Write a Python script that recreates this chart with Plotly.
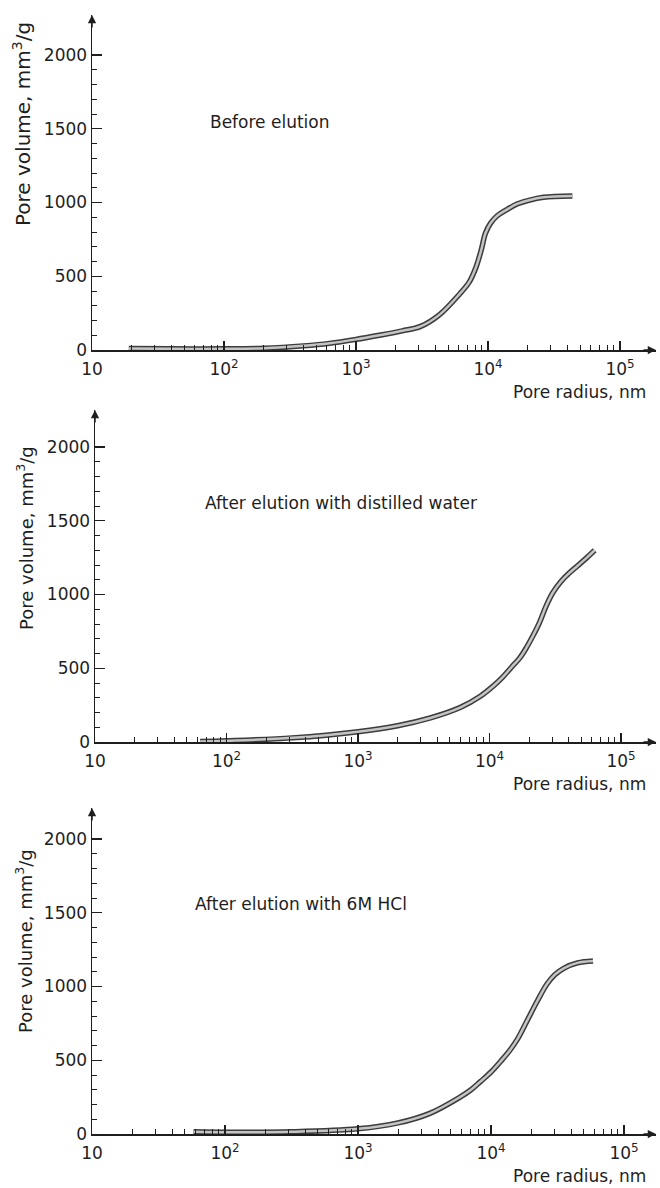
import plotly.graph_objects as go

# ---------------- data ----------------
# Panel 1: Before elution
radius_before = [19, 40, 100, 200, 400, 630, 1000, 1500, 2240, 3090, 4300, 6100,
                 7200, 8100, 8900, 9550, 10470, 11750, 13800, 16600, 20400, 26300, 43600]
volume_before = [10, 8, 8, 12, 28, 45, 72, 100, 130, 160, 240, 380,
                 460, 560, 680, 790, 860, 910, 950, 990, 1015, 1035, 1044]

# Panel 2: After elution with distilled water
radius_water = [63, 100, 316, 1000, 2000, 3550, 6030, 8510, 10700, 12600, 14800,
                17000, 19100, 21400, 24000, 26900, 30200, 34700, 39800, 46800, 55000, 63100]
volume_water = [3, 8, 28, 70, 110, 163, 235, 310, 380, 440, 510,
                 570, 640, 720, 810, 920, 1010, 1085, 1140, 1195, 1250, 1300]

# Panel 3: After elution with 6M HCl
radius_hcl = [58, 100, 316, 1000, 2000, 3470, 5850, 7080, 8320, 10000, 11750,
              13800, 15850, 18600, 22400, 26300, 30200, 35500, 44700, 58500]
volume_hcl = [15, 12, 15, 35, 75, 140, 250, 300, 355, 420, 490,
              565, 645, 765, 905, 1015, 1080, 1125, 1160, 1173]

panel_labels = ["Before elution", "After elution with distilled water",
                "After elution with 6M HCl"]
x_title = "Pore radius, nm"
y_title = "Pore volume, mm<sup>3</sup>/g"

x_tickvals = [10, 100, 1000, 10000, 100000]
x_ticktext = ["10", "10<sup>2</sup>", "10<sup>3</sup>", "10<sup>4</sup>", "10<sup>5</sup>"]
x_minor = [m * 10 ** d for d in range(1, 5) for m in range(2, 10)]
y_tickvals = [0, 500, 1000, 1500, 2000]
y_minor = [v for v in range(100, 2000, 100) if v % 500 != 0]

# ---------------- layout geometry (pixels in 660x1188 page) ----------------
W, H = 660, 1188
FONT = "DejaVu Sans"
INK = "#1e1e1e"

panels = [
    dict(x0=92, dec=132.0, y0=350, top=15, data=(radius_before, volume_before),
         label_x=208, label_y=122, ytitle_x=22, ytitle_y=124, ytitle_size=20),
    dict(x0=95, dec=131.5, y0=742, top=410, data=(radius_water, volume_water),
         label_x=203, label_y=503, ytitle_x=25, ytitle_y=538, ytitle_size=18),
    dict(x0=92, dec=133.0, y0=1134, top=808, data=(radius_hcl, volume_hcl),
         label_x=193, label_y=904, ytitle_x=24, ytitle_y=941, ytitle_size=18),
]
X_END = 656
PX_PER_UNIT = 0.1475

fig = go.Figure()
annotations = []

for i, p in enumerate(panels):
    n = "" if i == 0 else str(i + 1)
    xa, ya = "x" + n, "y" + n
    xr, yr = p["data"]

    fig.add_trace(go.Scatter(x=xr, y=yr, xaxis=xa, yaxis=ya, mode="lines",
                             line=dict(color="#3c3c3c", width=5.5, shape="spline", smoothing=1.0),
                             hoverinfo="skip", showlegend=False))
    fig.add_trace(go.Scatter(x=xr, y=yr, xaxis=xa, yaxis=ya, mode="lines",
                             line=dict(color="#c4c4c4", width=2.5, shape="spline", smoothing=1.0),
                             hoverinfo="skip", showlegend=False))

    xdom = [p["x0"] / W, X_END / W]
    xrange = [1, 1 + (X_END - p["x0"]) / p["dec"]]
    ydom = [1 - p["y0"] / H, 1 - p["top"] / H]
    yrange = [0, (p["y0"] - p["top"]) / PX_PER_UNIT]

    fig.update_layout(**{
        "xaxis" + n: dict(type="log", domain=xdom, range=xrange, anchor=ya,
                          automargin=False,
                          showline=True, linecolor=INK, linewidth=1.5,
                          showgrid=False, zeroline=False,
                          tickmode="array", tickvals=x_tickvals, ticktext=x_ticktext,
                          ticks="inside", ticklen=9, tickwidth=1.3, tickcolor=INK,
                          tickfont=dict(family=FONT, size=17, color=INK),
                          ticklabelstandoff=3,
                          minor=dict(tickmode="array", tickvals=x_minor, ticks="inside",
                                     ticklen=5, tickwidth=1, tickcolor=INK)),
        "yaxis" + n: dict(domain=ydom, range=yrange, anchor=xa,
                          automargin=False,
                          showline=True, linecolor=INK, linewidth=1.5,
                          showgrid=False, zeroline=False,
                          tickmode="array", tickvals=y_tickvals,
                          ticks="inside", ticklen=10, tickwidth=1.3, tickcolor=INK,
                          tickfont=dict(family=FONT, size=17, color=INK),
                          minor=dict(tickmode="array", tickvals=y_minor, ticks="inside",
                                     ticklen=5, tickwidth=1, tickcolor=INK)),
    })

    annotations.append(dict(x=0, y=1, xref=xa + " domain", yref=ya + " domain",
                            ax=0, ay=14, text="", showarrow=True, arrowhead=2,
                            arrowsize=1.1, arrowwidth=1.5, arrowcolor=INK))
    annotations.append(dict(x=1, y=0, xref=xa + " domain", yref=ya + " domain",
                            ax=-14, ay=0, text="", showarrow=True, arrowhead=2,
                            arrowsize=1.1, arrowwidth=1.5, arrowcolor=INK))

    annotations.append(dict(x=p["label_x"] / W, y=1 - p["label_y"] / H,
                            xref="paper", yref="paper", xanchor="left", yanchor="middle",
                            text=panel_labels[i], showarrow=False,
                            font=dict(family=FONT, size=17, color=INK)))
    annotations.append(dict(x=648 / W, y=1 - (p["y0"] + 42) / H,
                            xref="paper", yref="paper", xanchor="right", yanchor="middle",
                            text=x_title, showarrow=False,
                            font=dict(family=FONT, size=17, color=INK)))
    annotations.append(dict(x=p["ytitle_x"] / W, y=1 - p["ytitle_y"] / H,
                            xref="paper", yref="paper", xanchor="center", yanchor="middle",
                            text=y_title, textangle=-90, showarrow=False,
                            font=dict(family=FONT, size=p["ytitle_size"], color=INK)))

fig.update_layout(width=W, height=H, margin=dict(l=0, r=0, t=0, b=0, autoexpand=False),
                  paper_bgcolor="white", plot_bgcolor="white",
                  showlegend=False, annotations=annotations, hovermode=False,
                  font=dict(family=FONT, color=INK))

fig.write_html("out.html", config={"displayModeBar": False, "staticPlot": True},
               post_script="document.body.style.margin='0px';document.body.style.overflow='hidden';")
